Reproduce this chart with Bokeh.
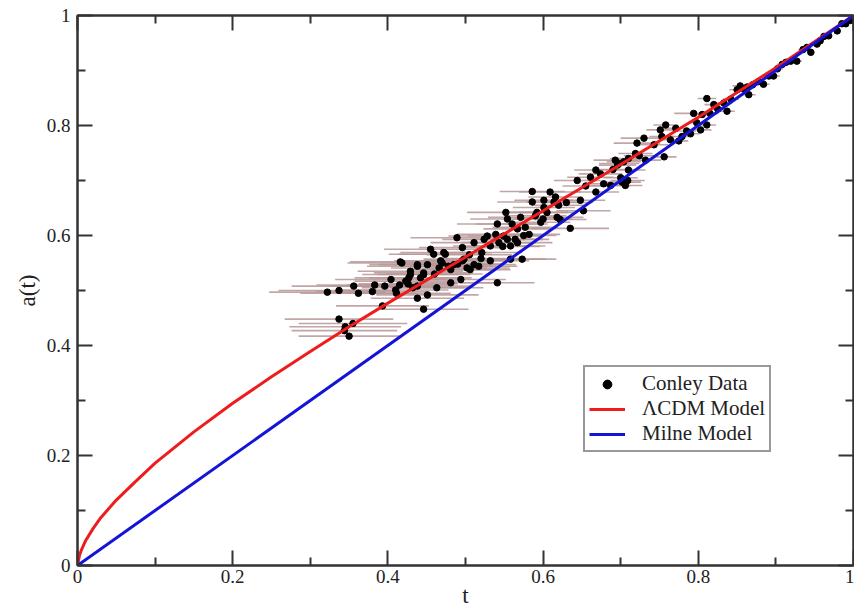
import numpy as np
from bokeh.plotting import figure
from bokeh.models import (Range1d, LinearAxis, Legend, LegendItem, FixedTicker,
                          CustomJSTickFormatter)
from bokeh.embed import file_html
from bokeh.resources import INLINE

# ---------------- data ----------------
major_ticks = [0.0, 0.2, 0.4, 0.6, 0.8, 1.0]
minor_ticks = [0.1, 0.3, 0.5, 0.7, 0.9]
tick_labels = ["0", "0.2", "0.4", "0.6", "0.8", "1"]

# LambdaCDM model curve
t_lcdm = [0.0, 0.0025, 0.005, 0.01, 0.02, 0.03, 0.05, 0.075, 0.1, 0.15, 0.2, 0.25,
          0.3, 0.35, 0.4, 0.5, 0.6, 0.7, 0.8, 0.9, 1.0]
a_lcdm = [0.0, 0.018, 0.028, 0.044, 0.067, 0.087, 0.119, 0.153, 0.186, 0.243, 0.295,
          0.343, 0.389, 0.434, 0.477, 0.561, 0.645, 0.729, 0.815, 0.905, 1.0]

# Milne model
t_milne = [0.0, 1.0]
a_milne = [0.0, 1.0]

# Conley data: t, a(t), horizontal error half-width
t_obs = [0.322, 0.337, 0.337, 0.344, 0.345, 0.350, 0.355, 0.356, 0.383, 0.393,
         0.396, 0.404, 0.410, 0.411, 0.416, 0.418, 0.423, 0.426, 0.427, 0.429,
         0.429, 0.438, 0.438, 0.438, 0.438, 0.442, 0.446, 0.446, 0.446, 0.451,
         0.451, 0.455, 0.459, 0.463, 0.466, 0.468, 0.470, 0.472, 0.474, 0.478,
         0.481, 0.481, 0.485, 0.489, 0.494, 0.496, 0.496, 0.498, 0.502, 0.506,
         0.511, 0.511, 0.517, 0.521, 0.524, 0.528, 0.532, 0.532, 0.539, 0.541,
         0.541, 0.543, 0.549, 0.552, 0.554, 0.554, 0.558, 0.558, 0.560, 0.564,
         0.567, 0.567, 0.571, 0.573, 0.577, 0.582, 0.586, 0.586, 0.590, 0.592,
         0.597, 0.601, 0.601, 0.605, 0.609, 0.614, 0.616, 0.620, 0.618, 0.622,
         0.635, 0.644, 0.648, 0.652, 0.661, 0.668, 0.668, 0.674, 0.678, 0.687,
         0.693, 0.696, 0.698, 0.702, 0.704, 0.706, 0.709, 0.710, 0.710, 0.719,
         0.721, 0.724, 0.730, 0.732, 0.743, 0.751, 0.753, 0.756, 0.758, 0.764,
         0.771, 0.779, 0.794, 0.803, 0.805, 0.811, 0.811, 0.820, 0.833, 0.837,
         0.854, 0.850, 0.859, 0.863, 0.865, 0.884, 0.891, 0.897, 0.908, 0.919,
         0.927, 0.940, 0.945, 0.953, 0.957, 0.968, 0.979, 0.990, 0.996, 0.775,
         0.785, 0.790, 0.798, 0.815, 0.825, 0.842, 0.870, 0.878, 0.902, 0.913,
         0.935, 0.962, 0.985, 0.700, 0.690, 0.655, 0.630, 0.600, 0.575, 0.548,
         0.520, 0.505, 0.490, 0.460, 0.432, 0.415, 0.380, 0.362]
a_obs = [0.497, 0.500, 0.448, 0.427, 0.434, 0.417, 0.440, 0.508, 0.510, 0.472,
         0.508, 0.520, 0.501, 0.495, 0.552, 0.550, 0.517, 0.512, 0.523, 0.535,
         0.529, 0.544, 0.508, 0.486, 0.547, 0.523, 0.532, 0.466, 0.529, 0.547,
         0.492, 0.575, 0.566, 0.505, 0.541, 0.554, 0.550, 0.569, 0.566, 0.544,
         0.514, 0.538, 0.547, 0.596, 0.520, 0.554, 0.578, 0.557, 0.541, 0.538,
         0.547, 0.587, 0.544, 0.569, 0.593, 0.599, 0.581, 0.554, 0.602, 0.621,
         0.514, 0.587, 0.599, 0.642, 0.630, 0.593, 0.581, 0.557, 0.621, 0.593,
         0.587, 0.612, 0.633, 0.557, 0.615, 0.602, 0.680, 0.661, 0.636, 0.642,
         0.624, 0.651, 0.664, 0.642, 0.679, 0.661, 0.670, 0.655, 0.633, 0.629,
         0.613, 0.700, 0.664, 0.645, 0.706, 0.719, 0.679, 0.712, 0.694, 0.691,
         0.737, 0.728, 0.731, 0.697, 0.734, 0.691, 0.700, 0.740, 0.719, 0.749,
         0.768, 0.745, 0.777, 0.737, 0.765, 0.792, 0.780, 0.743, 0.801, 0.774,
         0.795, 0.780, 0.822, 0.792, 0.820, 0.849, 0.801, 0.838, 0.841, 0.826,
         0.872, 0.865, 0.866, 0.870, 0.856, 0.875, 0.890, 0.890, 0.911, 0.917,
         0.917, 0.942, 0.933, 0.948, 0.954, 0.963, 0.972, 0.985, 0.991, 0.772,
         0.790, 0.785, 0.805, 0.822, 0.830, 0.848, 0.874, 0.880, 0.903, 0.915,
         0.938, 0.962, 0.985, 0.705, 0.720, 0.690, 0.660, 0.630, 0.600, 0.580,
         0.558, 0.565, 0.548, 0.530, 0.505, 0.510, 0.498, 0.495]
dt_obs = [0.075, 0.078, 0.070, 0.068, 0.072, 0.065, 0.070, 0.080, 0.075, 0.060,
          0.070, 0.072, 0.068, 0.070, 0.065, 0.070, 0.066, 0.064, 0.070, 0.068,
          0.062, 0.065, 0.070, 0.060, 0.062, 0.066, 0.064, 0.058, 0.060, 0.062,
          0.066, 0.060, 0.058, 0.060, 0.062, 0.060, 0.058, 0.056, 0.060, 0.058,
          0.060, 0.056, 0.055, 0.060, 0.058, 0.054, 0.056, 0.052, 0.055, 0.052,
          0.054, 0.056, 0.050, 0.052, 0.054, 0.050, 0.048, 0.050, 0.050, 0.052,
          0.048, 0.048, 0.046, 0.050, 0.048, 0.046, 0.045, 0.046, 0.046, 0.044,
          0.045, 0.044, 0.042, 0.044, 0.042, 0.040, 0.042, 0.045, 0.040, 0.040,
          0.038, 0.040, 0.038, 0.036, 0.040, 0.036, 0.035, 0.034, 0.034, 0.034,
          0.050, 0.030, 0.032, 0.035, 0.030, 0.028, 0.030, 0.028, 0.026, 0.026,
          0.028, 0.024, 0.026, 0.024, 0.022, 0.022, 0.022, 0.024, 0.022, 0.022,
          0.030, 0.020, 0.030, 0.020, 0.018, 0.018, 0.016, 0.016, 0.016, 0.015,
          0.015, 0.014, 0.025, 0.014, 0.014, 0.012, 0.012, 0.012, 0.010, 0.010,
          0.010, 0.010, 0.009, 0.009, 0.009, 0.008, 0.008, 0.008, 0.007, 0.006,
          0.006, 0.006, 0.005, 0.005, 0.005, 0.004, 0.004, 0.003, 0.003, 0.012,
          0.012, 0.012, 0.012, 0.011, 0.011, 0.010, 0.009, 0.008, 0.007, 0.007,
          0.006, 0.005, 0.004, 0.022, 0.026, 0.030, 0.034, 0.038, 0.042, 0.048,
          0.052, 0.055, 0.056, 0.062, 0.066, 0.068, 0.072, 0.075]

# ---------------- figure ----------------
AXFONT = "serif"
LEGFONT = "Liberation Serif"
AX = "#333333"
TXT = "#222222"

p = figure(width=854, height=610, x_range=Range1d(0, 1), y_range=Range1d(0, 1),
           output_backend="svg", toolbar_location=None,
           min_border_left=77, min_border_top=15, min_border_right=1, min_border_bottom=10)
p.grid.visible = False
p.outline_line_color = AX
p.outline_line_width = 2
p.background_fill_color = "white"
p.border_fill_color = "white"

bottom = p.below[0]
left = p.left[0]
top = LinearAxis()
right = LinearAxis()
p.add_layout(top, "above")
p.add_layout(right, "right")

label_map = {str(t): lab for t, lab in zip(major_ticks, tick_labels)}
fmt = CustomJSTickFormatter(args=dict(m=label_map),
                            code="const k = String(tick); return (k in m) ? m[k] : String(Math.round(tick*10)/10);")
blank = CustomJSTickFormatter(code="return '';")

for ax in (bottom, left, top, right):
    ax.ticker = FixedTicker(ticks=major_ticks, minor_ticks=minor_ticks)
    ax.major_tick_in = 15
    ax.major_tick_out = 0
    ax.minor_tick_in = 8
    ax.minor_tick_out = 0
    ax.major_tick_line_color = AX
    ax.minor_tick_line_color = AX
    ax.major_tick_line_width = 2
    ax.minor_tick_line_width = 2
    ax.axis_line_color = AX
    ax.axis_line_width = 2

for ax in (top, right):
    ax.formatter = blank
    ax.major_label_standoff = 0
    ax.major_label_text_font_size = "1px"

for ax in (bottom, left):
    ax.formatter = fmt
    ax.major_label_text_font = AXFONT
    ax.major_label_text_font_size = "19px"
    ax.major_label_text_color = TXT
    ax.axis_label_text_font = AXFONT
    ax.axis_label_text_font_size = "23px"
    ax.axis_label_text_font_style = "normal"
    ax.axis_label_text_color = TXT

bottom.axis_label = "t"
left.axis_label = "a(t)"
bottom.major_label_standoff = 4
left.major_label_standoff = 7
bottom.axis_label_standoff = -3
left.axis_label_standoff = 4

t_arr = np.array(t_obs)
dt_arr = np.array(dt_obs)
p.segment(x0=t_arr - dt_arr, x1=t_arr + dt_arr, y0=a_obs, y1=a_obs,
          line_color="#b79696", line_width=1.6, line_alpha=0.85)
pts = p.scatter(t_obs, a_obs, size=6.5, marker="circle", fill_color="black", line_color="black")
red = p.line(t_lcdm, a_lcdm, line_color="#ee1c1c", line_width=3)
blue = p.line(t_milne, a_milne, line_color="#1414d8", line_width=3)

legend = Legend(items=[LegendItem(label="Conley Data", renderers=[pts]),
                       LegendItem(label="\u039bCDM Model", renderers=[red]),
                       LegendItem(label="Milne Model", renderers=[blue])],
                location=(506, 113))
legend.label_text_font = LEGFONT
legend.label_text_font_size = "21px"
legend.label_text_line_height = 1.0
legend.label_text_color = TXT
legend.border_line_color = AX
legend.border_line_width = 2
legend.background_fill_color = "white"
legend.background_fill_alpha = 1
legend.padding = 4
legend.spacing = 0
legend.margin = 0
legend.label_height = 22
legend.glyph_height = 22
legend.glyph_width = 36
legend.label_standoff = 17
p.add_layout(legend)

open("out.html", "w").write(file_html(p, INLINE))
